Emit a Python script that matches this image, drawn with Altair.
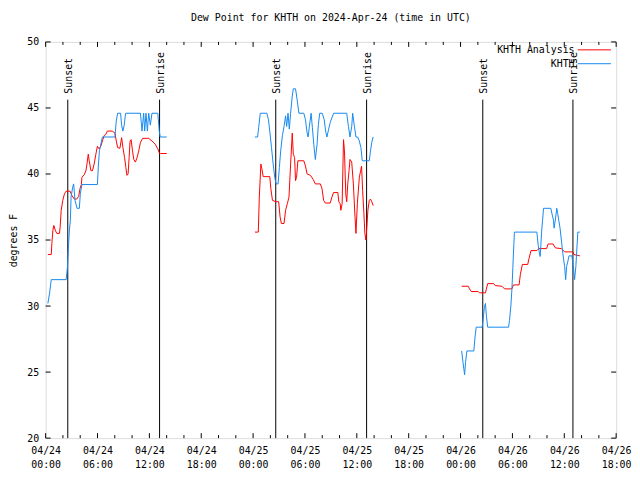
import altair as alt
import pandas as pd

FONT = "DejaVu Sans Mono"
TITLE = "Dew Point for KHTH on 2024-Apr-24 (time in UTC)"
SERIES = ["KHTH Analysis", "KHTH"]
COLORS = ["#ff0000", "#1589f0"]

# times are hours since 2024-04-24 00:00 UTC
ana1_h = [0.26, 0.65, 0.72, 0.84, 0.95, 1.11, 1.29, 1.6, 1.68, 1.8, 1.98, 2.18, 2.37, 2.83, 3.01,
          3.32, 3.59, 3.82, 3.98, 4.13, 4.2, 4.47, 4.66, 4.78, 4.93, 5.04, 5.24, 5.42, 5.61, 5.81,
          5.99, 6.19, 6.38, 6.57, 6.76, 6.96, 7.14, 7.71, 8.02, 8.17, 8.33, 8.59, 8.79, 8.94, 9.13,
          9.28, 9.4, 9.54, 9.66, 9.77, 9.89, 10.05, 10.2, 10.39, 10.58, 10.77, 10.97, 11.23, 11.92,
          12.3, 12.68, 12.98, 13.14, 13.29, 14.01]
ana1_v = [33.9, 33.9, 34.75, 35.75, 36.1, 35.75, 35.5, 35.5, 36.0, 37.25, 38.0, 38.5, 38.7, 38.7, 38.4,
          38.1, 38.1, 38.3, 38.9, 39.2, 39.75, 39.95, 40.25, 40.75, 41.5, 41.0, 40.25, 40.25, 40.75, 41.5,
          42.1, 41.9, 42.1, 42.5, 42.9, 43.0, 43.25, 43.25, 43.1, 42.5, 42.0, 41.95, 42.75, 42.0, 41.25,
          40.5, 39.9, 40.0, 41.25, 42.5, 42.6, 41.75, 41.1, 40.9, 41.25, 41.75, 42.4, 42.7, 42.7,
          42.5, 42.25, 41.9, 41.6, 41.55, 41.55]

ana2_h = [24.21, 24.6, 24.72, 24.9, 25.01, 25.17, 25.93, 26.05, 26.24, 26.66, 26.96, 27.12, 27.27, 27.58,
          27.76, 27.96, 28.15, 28.34, 28.53, 28.65, 28.8, 28.91, 29.03, 29.18, 29.87, 30.06, 30.25, 30.63,
          30.94, 31.2, 31.78, 31.97, 32.16, 32.35, 32.92, 33.12, 33.31, 33.8, 33.92, 34.07, 34.15, 34.3,
          34.46, 34.57, 34.72, 34.83, 34.95, 35.1, 35.21, 35.41, 35.6, 35.79, 35.9, 36.06, 36.29, 36.44,
          36.55, 36.67, 36.82, 36.93, 37.05, 37.16, 37.28, 37.44, 37.58, 37.73, 37.89]
ana2_v = [35.6, 35.6, 38.25, 40.75, 40.4, 39.8, 39.8, 38.9, 38.0, 37.9, 37.9, 36.75, 36.25, 36.25,
          37.25, 37.75, 38.25, 40.75, 43.1, 41.5, 41.25, 39.5, 39.75, 41.0, 41.0, 40.6, 40.0, 39.9,
          39.6, 39.25, 39.25, 38.9, 38.0, 37.8, 37.8, 38.25, 38.6, 38.6, 37.9, 37.75, 37.25, 37.75,
          42.6, 41.75, 38.5, 37.9, 39.25, 40.25, 41.1, 40.9, 39.25, 36.75, 35.5, 37.75, 39.75, 40.25,
          40.6, 38.75, 37.0, 35.5, 35.0, 36.0, 37.25, 38.0, 38.1, 37.9, 37.6]

ana3_h = [48.13, 48.89, 49.04, 49.24, 50.04, 50.19, 50.88, 50.99, 51.14, 51.83, 52.02, 52.79, 53.09,
          53.94, 54.12, 54.77, 54.92, 55.15, 55.77, 55.92, 56.15, 56.83, 57.06, 57.95, 58.13, 58.7,
          58.98, 59.66, 60.04, 61.0, 61.11, 61.8]
ana3_v = [31.5, 31.5, 31.3, 31.1, 31.1, 31.0, 31.0, 31.3, 31.7, 31.7, 31.55, 31.5, 31.3,
          31.3, 31.6, 31.6, 32.4, 33.15, 33.15, 33.6, 34.2, 34.2, 34.35, 34.35, 34.7, 34.7,
          34.4, 34.35, 34.1, 34.1, 33.9, 33.8]

obs1_h = [0.26, 0.46, 0.65, 2.37, 2.52, 2.56, 2.67, 2.75, 2.86, 2.94, 3.13, 3.24, 3.4, 3.63, 3.9,
          4.01, 4.2, 5.99, 6.11, 6.22, 6.57, 8.02, 8.17, 8.33, 8.67, 8.79, 8.94, 9.09, 9.25, 10.97,
          11.15, 11.34, 11.46, 11.61, 11.77, 11.92, 12.11, 12.3, 12.98, 13.14, 13.26, 14.01]
obs1_v = [30.2, 31.0, 32.0, 32.0, 32.9, 33.5, 34.8, 35.75, 36.5, 38.25, 39.0, 39.25, 38.0, 37.4, 37.4,
          38.5, 39.2, 39.2, 40.75, 41.75, 42.8, 42.8, 44.0, 44.6, 44.6, 43.7, 43.25, 43.7, 44.6, 44.6,
          43.25, 44.6, 43.25, 44.6, 43.25, 44.6, 43.7, 44.6, 44.6, 43.25, 42.8, 42.8]

obs2_h = [24.21, 24.52, 24.64, 24.83, 25.59, 25.78, 25.93, 26.13, 26.32, 26.5, 26.66, 26.89, 27.04,
          27.19, 27.39, 27.58, 27.76, 27.88, 28.04, 28.19, 28.34, 28.53, 28.65, 28.91, 29.1, 29.3,
          29.87, 30.06, 30.25, 30.37, 30.51, 30.71, 30.86, 31.02, 31.2, 31.4, 31.55, 31.71, 32.0,
          32.23, 32.39, 32.54, 32.74, 32.92, 33.31, 34.83, 35.03, 35.21, 35.41, 35.52, 35.72, 35.9,
          36.09, 36.29, 36.47, 36.63, 37.44, 37.58, 37.73, 37.89]
obs2_v = [42.8, 42.8, 43.5, 44.6, 44.6, 44.1, 43.25, 42.0, 40.75, 39.75, 39.25, 39.25, 40.5,
          41.75, 42.9, 43.6, 44.4, 43.6, 44.6, 43.4, 44.6, 45.9, 46.45, 46.45, 45.6, 44.6,
          44.6, 44.1, 43.1, 42.8, 43.6, 44.6, 43.5, 42.25, 41.1, 42.25, 43.75, 44.6, 44.6,
          44.1, 43.25, 42.8, 43.4, 43.9, 44.6, 44.6, 43.6, 42.8, 43.6, 44.6, 43.6, 42.8,
          42.8, 42.5, 42.0, 41.0, 41.0, 41.75, 42.4, 42.8]

obs3_h = [48.13, 48.28, 48.47, 48.58, 48.73, 49.54, 49.65, 49.81, 50.5, 50.61, 50.76, 50.88, 50.99,
          51.14, 53.55, 53.66, 53.82, 53.94, 54.05, 54.17, 54.23, 56.83, 56.98, 57.1, 57.21, 57.29,
          57.37, 57.49, 57.6, 58.44, 58.59, 58.75, 58.82, 58.98, 59.13, 59.24, 59.36, 59.51, 59.66,
          59.81, 59.93, 60.04, 60.16, 60.27, 60.42, 60.54, 60.88, 61.04, 61.19, 61.34, 61.46, 61.57,
          61.8]
obs3_v = [26.6, 25.75, 24.8, 25.75, 26.6, 26.6, 27.5, 28.4, 28.4, 29.0, 29.9, 30.2, 29.25,
          28.4, 28.4, 28.9, 30.0, 31.25, 32.9, 34.75, 35.6, 35.6, 34.6, 34.1, 33.75, 34.6,
          35.6, 36.5, 37.4, 37.4, 36.95, 36.5, 35.9, 36.6, 37.4, 37.0, 36.5, 35.9, 35.0,
          34.1, 33.5, 33.0, 32.0, 33.0, 33.4, 33.8, 33.8, 33.0, 32.0, 33.0, 34.4, 35.6,
          35.6]

sun_h = [2.56, 13.18, 26.62, 37.13, 50.57, 61.0]
sun_label = ["Sunset", "Sunrise", "Sunset", "Sunrise", "Sunset", "Sunrise"]
SUN_TOP = 45.63

x_major = list(range(0, 67, 6))
x_minor = [h for h in range(0, 67, 2) if h % 6 != 0]
y_ticks = [20, 25, 30, 35, 40, 45, 50]

rows = []
for series, seg, hs, vs in [
    ("KHTH Analysis", 1, ana1_h, ana1_v), ("KHTH Analysis", 2, ana2_h, ana2_v),
    ("KHTH Analysis", 3, ana3_h, ana3_v),
    ("KHTH", 1, obs1_h, obs1_v), ("KHTH", 2, obs2_h, obs2_v), ("KHTH", 3, obs3_h, obs3_v),
]:
    for h, v in zip(hs, vs):
        rows.append({"series": series, "seg": f"{series}-{seg}", "h": h, "v": v})
df = pd.DataFrame(rows)
sun_df = pd.DataFrame({"h": sun_h, "label": sun_label})
xmaj_df = pd.DataFrame({"h": x_major})
xmin_df = pd.DataFrame({"h": x_minor})
yt_df = pd.DataFrame({"v": y_ticks})

W, H = 576, 400
xs = alt.Scale(domain=[0, 66], nice=False, zero=False)
ys = alt.Scale(domain=[20, 50], nice=False, zero=False)

label_expr = ("['04/' + (24 + floor(datum.value / 24)), "
              "((datum.value % 24) < 10 ? '0' : '') + (datum.value % 24) + ':00']")

X_AXIS = alt.Axis(
    values=x_major, labelExpr=label_expr, title=None, ticks=False, domain=False, grid=False,
    labelFont=FONT, labelFontSize=10, labelColor="black", labelLineHeight=14,
    labelPadding=8, labelFlush=False, labelOverlap=False, labelBound=False)
Y_AXIS = alt.Axis(
    values=y_ticks, title="degrees F", ticks=False, domain=False, grid=False,
    labelFont=FONT, labelFontSize=10, labelColor="black", labelPadding=7,
    labelFlush=False, labelOverlap=False,
    titleFont=FONT, titleFontSize=10, titleFontWeight="normal", titleColor="black",
    titleAngle=270, titleBaseline="bottom", titleX=-27, titleY=H / 2, titleAlign="center")

lines = alt.Chart(df).mark_line(strokeWidth=1).encode(
    x=alt.X("h:Q", scale=xs, axis=X_AXIS),
    y=alt.Y("v:Q", scale=ys, axis=Y_AXIS),
    color=alt.Color("series:N", scale=alt.Scale(domain=SERIES, range=COLORS), legend=alt.Legend(
        title=None, orient="none", legendX=549, legendY=3, symbolType="M-4,0H4",
        symbolSize=70, symbolStrokeWidth=1, labelAlign="right", labelOffset={"expr": "-25"},
        labelFont=FONT, labelFontSize=10, labelColor="black", rowPadding=4,
        padding=0)),
    detail="seg:N",
)

sun_rules = alt.Chart(sun_df).mark_rule(color="black", strokeWidth=1).encode(
    x=alt.X("h:Q", scale=xs, axis=X_AXIS),
    y=alt.YDatum(datum=SUN_TOP, scale=ys, axis=Y_AXIS),
    y2=alt.datum(20),
)
sun_text = alt.Chart(sun_df).mark_text(
    angle=270, align="left", baseline="middle", dx=6, dy=1, font=FONT, fontSize=10, color="black"
).encode(
    x=alt.X("h:Q", scale=xs, axis=X_AXIS),
    y=alt.YDatum(datum=SUN_TOP, scale=ys, axis=Y_AXIS),
    text="label:N",
)

def xticks(d, length):
    bottom = alt.Chart(d).mark_rule(color="black", strokeWidth=1).encode(
        x=alt.X("h:Q", scale=xs, axis=X_AXIS), y=alt.value(H), y2=alt.value(H - length))
    top = alt.Chart(d).mark_rule(color="black", strokeWidth=1).encode(
        x=alt.X("h:Q", scale=xs, axis=X_AXIS), y=alt.value(0), y2=alt.value(length))
    return [bottom, top]

y_left = alt.Chart(yt_df).mark_rule(color="black", strokeWidth=1).encode(
    y=alt.Y("v:Q", scale=ys, axis=Y_AXIS), x=alt.value(0), x2=alt.value(5))
y_right = alt.Chart(yt_df).mark_rule(color="black", strokeWidth=1).encode(
    y=alt.Y("v:Q", scale=ys, axis=Y_AXIS), x=alt.value(W - 5), x2=alt.value(W))

chart = alt.layer(
    *xticks(xmaj_df, 5), *xticks(xmin_df, 3), y_left, y_right,
    sun_rules, sun_text, lines,
).properties(
    width=W, height=H,
    title=alt.TitleParams(TITLE, font=FONT, fontSize=10, fontWeight="normal", color="black",
                          anchor="middle", offset=14),
    autosize=alt.AutoSizeParams(type="none"),
    padding={"left": 38, "top": 32, "right": 16, "bottom": 36},
).configure_view(stroke="black", strokeWidth=1).configure(background="white")

chart.save("out.html", embed_options={"renderer": "svg", "actions": False})
